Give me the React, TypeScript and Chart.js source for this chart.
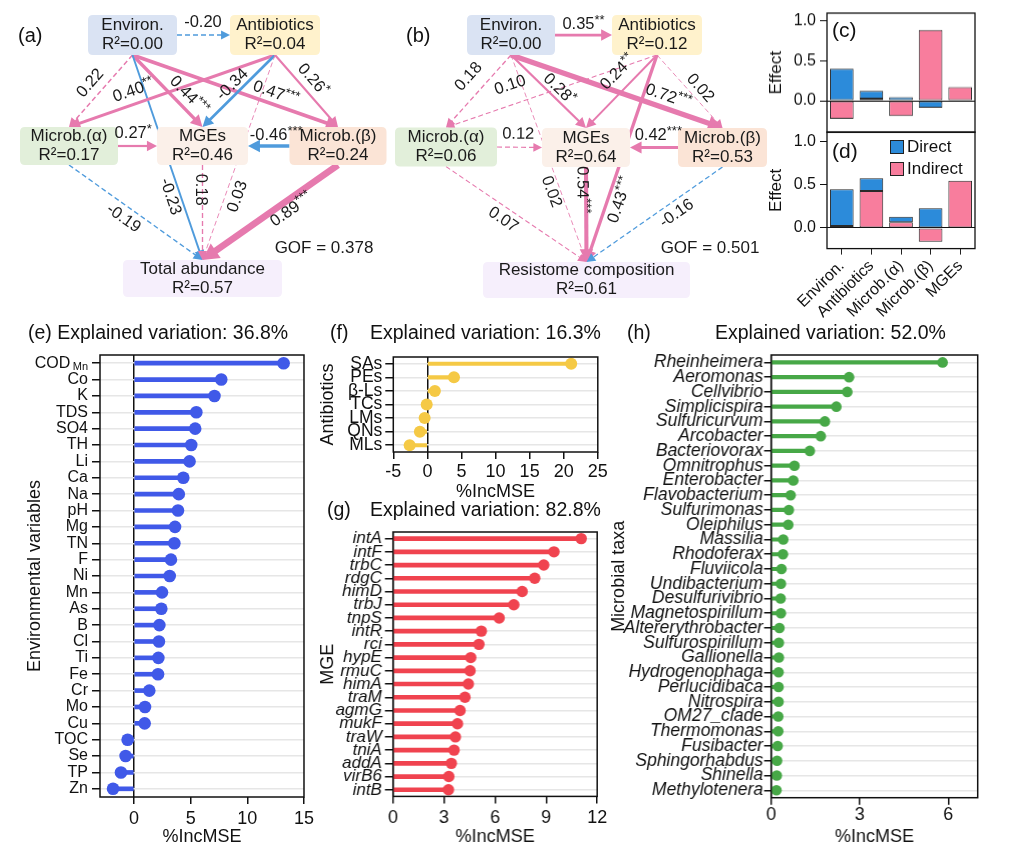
import React, { useEffect, useRef } from 'react';
import { Chart, registerables } from 'chart.js';

Chart.register(...registerables);

const FONT = "'Liberation Sans', Arial, Helvetica, sans-serif";
Chart.defaults.font.family = FONT;
Chart.defaults.color = '#111';

// ---------------- DATA ----------------
// (a) path model, total abundance
const A_NODES = ['Environ.', 'Antibiotics', 'Microb.(α)', 'MGEs', 'Microb.(β)', 'Total abundance'];
const A_R2 = [0.0, 0.04, 0.17, 0.46, 0.24, 0.57];
const A_FROM = [0, 0, 0, 0, 0, 1, 1, 1, 1, 2, 4, 2, 3, 4];
const A_TO = [1, 2, 3, 4, 5, 2, 3, 4, 5, 3, 3, 5, 5, 5];
const A_COEF = [-0.2, 0.22, 0.44, 0.47, -0.23, 0.4, -0.34, 0.26, 0.03, 0.27, -0.46, -0.19, 0.18, 0.89];
const A_SIG = ['', '', '***', '***', '', '**', '', '*', '', '*', '***', '', '', '***'];
const A_DASHED = [1, 1, 0, 0, 0, 0, 0, 0, 1, 0, 0, 1, 1, 0];
const A_GOF = 0.378;

// (b) path model, resistome composition
const B_NODES = ['Environ.', 'Antibiotics', 'Microb.(α)', 'MGEs', 'Microb.(β)', 'Resistome composition'];
const B_R2 = [0.0, 0.12, 0.06, 0.64, 0.53, 0.61];
const B_FROM = [0, 0, 0, 0, 0, 1, 1, 1, 1, 2, 4, 2, 3, 4];
const B_TO = [1, 2, 3, 4, 5, 2, 3, 4, 5, 3, 3, 5, 5, 5];
const B_COEF = [0.35, 0.18, 0.28, 0.72, 0.02, 0.1, 0.24, 0.02, 0.43, 0.12, 0.42, 0.07, 0.54, -0.16];
const B_SIG = ['**', '', '*', '***', '', '', '**', '', '***', '', '***', '', '***', ''];
const B_DASHED = [0, 1, 0, 0, 1, 1, 0, 1, 0, 1, 0, 1, 0, 1];
const B_GOF = 0.501;

// (c)/(d) effects
const EFFECT_CATS = ['Environ.', 'Antibiotics', 'Microb.(α)', 'Microb.(β)', 'MGEs'];
const C_DIRECT = [0.4, 0.097, 0.046, -0.088, null];
const C_INDIRECT = [-0.227, 0.025, -0.19, 0.887, 0.17];
const D_DIRECT = [0.423, 0.146, 0.065, 0.227, null];
const D_INDIRECT = [0.023, 0.427, 0.065, -0.158, 0.546];
const EFFECT_TICKS = [0, 0.5, 1.0];

// (e) environmental variables
const E_VARS = ['CODMn', 'Co', 'K', 'TDS', 'SO4', 'TH', 'Li', 'Ca', 'Na', 'pH', 'Mg', 'TN', 'F', 'Ni', 'Mn', 'As', 'B', 'Cl', 'Ti', 'Fe', 'Cr', 'Mo', 'Cu', 'TOC', 'Se', 'TP', 'Zn'];
const E_VALS = [13.2, 7.7, 7.1, 5.5, 5.4, 5.05, 4.9, 4.35, 3.95, 3.88, 3.62, 3.56, 3.26, 3.15, 2.47, 2.41, 2.24, 2.2, 2.15, 2.12, 1.35, 0.97, 0.94, -0.56, -0.74, -1.15, -1.85];
const E_TICKS = [0, 5, 10, 15];
const E_EXPLAINED = '36.8%';

// (f) antibiotics
const F_CLASSES = ['SAs', 'PEs', 'β-Ls', 'TCs', 'LMs', 'QNs', 'MLs'];
const F_VALS = [21.1, 3.9, 1.1, -0.1, -0.4, -1.1, -2.6];
const F_TICKS = [-5, 0, 5, 10, 15, 20, 25];
const F_EXPLAINED = '16.3%';

// (g) MGEs
const G_GENES = ['intA', 'intF', 'trbC', 'rdgC', 'himD', 'trbJ', 'tnpS', 'intR', 'rci', 'hypE', 'rmuC', 'himA', 'traM', 'agmG', 'mukF', 'traW', 'tniA', 'addA', 'virB6', 'intB'];
const G_VALS = [11.06, 9.46, 8.86, 8.33, 7.59, 7.1, 6.24, 5.19, 5.05, 4.57, 4.53, 4.43, 4.23, 3.94, 3.79, 3.67, 3.59, 3.43, 3.28, 3.26];
const G_TICKS = [0, 3, 6, 9, 12];
const G_EXPLAINED = '82.8%';

// (h) microbial taxa
const H_TAXA = ['Rheinheimera', 'Aeromonas', 'Cellvibrio', 'Simplicispira', 'Sulfuricurvum', 'Arcobacter', 'Bacteriovorax', 'Omnitrophus', 'Enterobacter', 'Flavobacterium', 'Sulfurimonas', 'Oleiphilus', 'Massilia', 'Rhodoferax', 'Fluviicola', 'Undibacterium', 'Desulfurivibrio', 'Magnetospirillum', 'Altererythrobacter', 'Sulfurospirillum', 'Gallionella', 'Hydrogenophaga', 'Perlucidibaca', 'Nitrospira', 'OM27_clade', 'Thermomonas', 'Fusibacter', 'Sphingorhabdus', 'Shinella', 'Methylotenera'];
const H_VALS = [5.81, 2.64, 2.58, 2.21, 1.82, 1.68, 1.31, 0.79, 0.75, 0.66, 0.6, 0.58, 0.41, 0.4, 0.35, 0.33, 0.32, 0.33, 0.28, 0.26, 0.26, 0.25, 0.25, 0.25, 0.24, 0.24, 0.22, 0.2, 0.19, 0.18];
const H_TICKS = [0, 3, 6];
const H_EXPLAINED = '52.0%';

const SUBS: Record<string, [string, string]> = { CODMn: ['COD', 'Mn'] };

// ---------------- STYLE / LAYOUT ----------------
const EDGE_PINK = '#E67AAE';
const EDGE_BLUE = '#4F9BDC';
const BAR_BLUE = '#2C8BDA';
const BAR_PINK = '#F87D9D';
const NODE_FILLS = ['#DAE3F3', '#FFF2CC', '#E2EFDA', '#FBF0E9', '#FBE4D6', '#F6EFFC'];

const A_LAYOUT = {
  W: 392, H: 300,
  cx: [132.5, 275, 69, 202.5, 338, 202.5],
  cy: [35, 35, 146, 146, 146, 278.5],
  w: [89, 90, 98, 91, 97, 159],
  h: [40, 40, 38, 38, 38, 37],
  labelT: [0.49, 0.51, 0.68, 0.68, 0.675, 0.666, 0.5, 0.456, 0.671, 0.39, 0.32, 0.46, 0.26, 0.385],
  labelOff: [13, 13, 12, 11, -10, 13, 9, 12, -12, 13, 11, -12, -2, -10],
  gof: [324, 248],
};
const B_LAYOUT = {
  W: 400, H: 300,
  cx: [131, 277, 66, 206, 342.5, 206.5],
  cy: [35, 35, 147, 147.5, 147.5, 280],
  w: [88, 90, 102, 88, 89, 207],
  h: [40, 40, 39, 39, 39, 36],
  labelT: [0.5, 0.456, 0.557, 0.725, 0.646, 0.666, 0.39, 0.546, 0.682, 0.47, 0.41, 0.455, 0.24, 0.386],
  labelOff: [11, 17, 9, 12, -9, 19, 16, 10, -12, 13, 12, -12, -4, -12],
  gof: [330, 248],
};

// ---------------- PLUGINS ----------------
const framePlugin = (lw: number) => ({
  id: 'frame',
  afterDraw(chart: any) {
    const { left, top, right, bottom } = chart.chartArea;
    const ctx = chart.ctx;
    ctx.save();
    ctx.strokeStyle = '#111';
    ctx.lineWidth = lw;
    ctx.strokeRect(left, top, right - left, bottom - top);
    ctx.restore();
  },
});

const subPlugin = (labels: string[], tickLen: number, tickPad: number) => ({
  id: 'subs',
  afterDraw(chart: any) {
    const ys = chart.scales.y;
    const ctx = chart.ctx;
    labels.forEach((lab, i) => {
      const s = SUBS[lab];
      if (!s) return;
      const y = ys.getPixelForTick(i);
      ctx.save();
      ctx.font = `11px ${FONT}`;
      ctx.fillStyle = '#111';
      ctx.textAlign = 'right';
      ctx.textBaseline = 'middle';
      ctx.fillText(s[1], ys.right - tickLen - tickPad, y + 4);
      ctx.restore();
    });
  },
});

function drawDiagram(chart: any, d: any, L: any) {
  const ctx = chart.ctx;
  const xs = chart.scales.x;
  const ys = chart.scales.y;
  const px = (v: number) => xs.getPixelForValue(v);
  const py = (v: number) => ys.getPixelForValue(v);
  ctx.save();
  const ends = d.from.map((s: number, i: number) => {
    const t = d.to[i];
    let sx, sy, ex, ey;
    if (Math.abs(L.cy[s] - L.cy[t]) < 5) {
      const dir = L.cx[t] > L.cx[s] ? 1 : -1;
      sx = L.cx[s] + (dir * L.w[s]) / 2;
      sy = L.cy[s];
      ex = L.cx[t] - (dir * L.w[t]) / 2;
      ey = L.cy[t];
    } else {
      sx = L.cx[s];
      sy = L.cy[s] + L.h[s] / 2;
      ex = L.cx[t];
      ey = L.cy[t] - L.h[t] / 2;
    }
    return [px(sx), py(sy), px(ex), py(ey)];
  });
  // edges
  d.coef.forEach((c: number, i: number) => {
    const [sx, sy, ex, ey] = ends[i];
    const col = c >= 0 ? EDGE_PINK : EDGE_BLUE;
    const dashed = d.dashed[i] === 1;
    const lw = dashed ? 0.8 + 3 * Math.abs(c) : 0.3 + 7 * Math.abs(c);
    const len = Math.hypot(ex - sx, ey - sy);
    const ux = (ex - sx) / len;
    const uy = (ey - sy) / len;
    const ah = 7 + 1.4 * lw;
    const aw = 3.5 + 0.8 * lw;
    ctx.strokeStyle = col;
    ctx.lineWidth = lw;
    ctx.setLineDash(dashed ? [5, 3] : []);
    ctx.beginPath();
    ctx.moveTo(sx, sy);
    ctx.lineTo(ex - ux * ah * 0.7, ey - uy * ah * 0.7);
    ctx.stroke();
    ctx.setLineDash([]);
    ctx.fillStyle = col;
    ctx.beginPath();
    ctx.moveTo(ex, ey);
    ctx.lineTo(ex - ux * ah - uy * aw, ey - uy * ah + ux * aw);
    ctx.lineTo(ex - ux * ah + uy * aw, ey - uy * ah - ux * aw);
    ctx.closePath();
    ctx.fill();
  });
  // boxes
  d.names.forEach((name: string, i: number) => {
    const x0 = px(L.cx[i] - L.w[i] / 2);
    const x1 = px(L.cx[i] + L.w[i] / 2);
    const y0 = py(L.cy[i] - L.h[i] / 2);
    const y1 = py(L.cy[i] + L.h[i] / 2);
    const r = 5;
    ctx.fillStyle = NODE_FILLS[i];
    ctx.beginPath();
    ctx.moveTo(x0 + r, y0);
    ctx.lineTo(x1 - r, y0);
    ctx.quadraticCurveTo(x1, y0, x1, y0 + r);
    ctx.lineTo(x1, y1 - r);
    ctx.quadraticCurveTo(x1, y1, x1 - r, y1);
    ctx.lineTo(x0 + r, y1);
    ctx.quadraticCurveTo(x0, y1, x0, y1 - r);
    ctx.lineTo(x0, y0 + r);
    ctx.quadraticCurveTo(x0, y0, x0 + r, y0);
    ctx.closePath();
    ctx.fill();
    ctx.fillStyle = '#1a1a1a';
    ctx.font = `17px ${FONT}`;
    ctx.textAlign = 'center';
    ctx.textBaseline = 'middle';
    const cx = px(L.cx[i]);
    const cy = py(L.cy[i]);
    ctx.fillText(name, cx, cy - 9.5);
    ctx.fillText(`R²=${d.r2[i].toFixed(2)}`, cx, cy + 9.5);
  });
  // labels
  d.coef.forEach((c: number, i: number) => {
    const [sx, sy, ex, ey] = ends[i];
    let th = Math.atan2(ey - sy, ex - sx);
    if (th > Math.PI / 2 + 1e-6) th -= Math.PI;
    else if (th <= -Math.PI / 2) th += Math.PI;
    const t = L.labelT[i];
    const off = L.labelOff[i];
    const lx = sx + t * (ex - sx) + off * Math.sin(th);
    const ly = sy + t * (ey - sy) - off * Math.cos(th);
    const main = c.toFixed(2);
    const stars = d.sig[i];
    ctx.save();
    ctx.translate(lx, ly);
    ctx.rotate(th);
    ctx.fillStyle = '#1a1a1a';
    ctx.textBaseline = 'middle';
    ctx.textAlign = 'left';
    ctx.font = `16.5px ${FONT}`;
    const w1 = ctx.measureText(main).width;
    ctx.font = `13px ${FONT}`;
    const w2 = stars ? ctx.measureText(stars).width : 0;
    const x0 = -(w1 + w2) / 2;
    ctx.font = `16.5px ${FONT}`;
    ctx.fillText(main, x0, 0);
    if (stars) {
      ctx.font = `13px ${FONT}`;
      ctx.fillText(stars, x0 + w1, -4);
    }
    ctx.restore();
  });
  // GOF
  ctx.fillStyle = '#1a1a1a';
  ctx.font = `17px ${FONT}`;
  ctx.textAlign = 'center';
  ctx.textBaseline = 'middle';
  ctx.fillText(`GOF = ${d.gof.toFixed(3)}`, px(L.gof[0]), py(L.gof[1]));
  ctx.restore();
}

// ---------------- CONFIG BUILDERS ----------------
function diagramConfig(d: any, L: any) {
  return {
    type: 'scatter',
    data: {
      datasets: [{ data: L.cx.map((x: number, i: number) => ({ x, y: L.cy[i] })), pointRadius: 0 }],
    },
    options: {
      responsive: true,
      maintainAspectRatio: false,
      animation: false,
      events: [],
      layout: { padding: 0 },
      plugins: { legend: { display: false }, tooltip: { enabled: false } },
      scales: {
        x: { type: 'linear', display: false, min: 0, max: L.W },
        y: { type: 'linear', display: false, min: 0, max: L.H, reverse: true },
      },
    },
    plugins: [{ id: 'diagram', afterDatasetsDraw: (chart: any) => drawDiagram(chart, d, L) }],
  };
}

const PAD_TOP = 16;

function lollipopConfig(o: any) {
  const plugins: any[] = [framePlugin(1.5)];
  if (o.labels.some((l: string) => SUBS[l])) plugins.push(subPlugin(o.labels, o.yTickLen, o.yTickPad));
  return {
    type: 'bar',
    data: {
      labels: o.labels,
      datasets: [
        {
          type: 'line', indexAxis: 'y', data: o.values, showLine: false,
          pointRadius: o.dotR, pointHoverRadius: o.dotR, pointBackgroundColor: o.color,
          pointBorderWidth: 0, borderColor: o.color, order: 0,
        },
        {
          type: 'bar', indexAxis: 'y', data: o.values, backgroundColor: o.color,
          barThickness: o.stem, borderWidth: 0, order: 1,
        },
      ],
    },
    options: {
      indexAxis: 'y',
      responsive: true,
      maintainAspectRatio: false,
      animation: false,
      events: [],
      layout: { padding: { top: PAD_TOP, right: o.padRight, left: 0, bottom: 0 } },
      plugins: { legend: { display: false }, tooltip: { enabled: false } },
      scales: {
        x: {
          type: 'linear', min: o.xMin, max: o.xMax,
          afterBuildTicks: (s: any) => { s.ticks = o.xTicks.map((v: number) => ({ value: v })); },
          afterFit: (s: any) => { s.height = o.axisH; },
          ticks: { font: { size: 18 }, padding: o.xTickPad, color: '#111', callback: (v: any) => String(v) },
          grid: {
            color: (ctx: any) => (ctx.tick && ctx.tick.value === 0 ? '#111' : 'rgba(0,0,0,0)'),
            lineWidth: 1.5, tickColor: '#111', tickLength: 7,
          },
          border: { display: false },
          title: { display: true, text: '%IncMSE', font: { size: 18 }, color: '#111', padding: { top: 0, bottom: 0 } },
        },
        y: {
          type: 'category', offset: true,
          afterFit: (s: any) => { s.width = o.axisW; },
          ticks: {
            autoSkip: false,
            font: { size: o.yFont, style: o.italic ? 'italic' : 'normal' },
            padding: o.yTickPad, color: '#111',
            callback: (_v: any, i: number) => {
              const lab = o.labels[i];
              return SUBS[lab] ? SUBS[lab][0] + '\u2007\u2007' : lab;
            },
          },
          grid: { offset: false, color: '#E6E6E6', lineWidth: 1.5, tickColor: '#111', tickLength: o.yTickLen },
          border: { display: false },
          title: { display: true, text: o.yTitle, font: { size: 18 }, color: '#111', padding: { top: o.titlePad, bottom: 0 } },
        },
      },
    },
    plugins,
  };
}

function effectConfig(direct: any[], indirect: any[], yMin: number, yMax: number, showX: boolean, padBottom: number, axisH: number) {
  return {
    type: 'bar',
    data: {
      labels: EFFECT_CATS,
      datasets: [
        { label: 'Indirect', data: indirect, backgroundColor: BAR_PINK, borderColor: '#2a2a2a', borderWidth: 1, borderSkipped: false, barPercentage: 0.8, categoryPercentage: 1 },
        { label: 'Direct', data: direct, backgroundColor: BAR_BLUE, borderColor: '#2a2a2a', borderWidth: 1, borderSkipped: false, barPercentage: 0.8, categoryPercentage: 1 },
      ],
    },
    options: {
      responsive: true,
      maintainAspectRatio: false,
      animation: false,
      events: [],
      layout: { padding: { top: PAD_TOP, right: 10, left: 0, bottom: padBottom } },
      plugins: { legend: { display: false }, tooltip: { enabled: false } },
      scales: {
        x: {
          stacked: true, display: showX, offset: true,
          afterFit: (s: any) => { s.height = axisH; },
          grid: { offset: false, color: 'rgba(0,0,0,0)', tickColor: '#222', tickLength: 6 },
          border: { display: false },
          ticks: { font: { size: 16 }, minRotation: 45, maxRotation: 45, padding: 2, color: '#111', autoSkip: false },
        },
        y: {
          stacked: true, min: yMin, max: yMax,
          afterBuildTicks: (s: any) => { s.ticks = EFFECT_TICKS.map((v) => ({ value: v })); },
          afterFit: (s: any) => { s.width = 62; },
          ticks: { font: { size: 16 }, padding: 4, color: '#111', callback: (v: any) => Number(v).toFixed(1) },
          grid: {
            color: (ctx: any) => (ctx.tick && ctx.tick.value === 0 ? '#111' : 'rgba(0,0,0,0)'),
            lineWidth: 1, tickColor: '#111', tickLength: 7,
          },
          border: { display: false },
          title: { display: true, text: 'Effect', font: { size: 17 }, color: '#111', padding: { top: 1, bottom: 0 } },
        },
      },
    },
    plugins: [framePlugin(1.3)],
  };
}

// ---------------- COMPONENTS ----------------
function ChartBox({ left, top, width, height, make }: any) {
  const ref = useRef<HTMLCanvasElement>(null);
  useEffect(() => {
    const chart = new Chart(ref.current as HTMLCanvasElement, make());
    return () => chart.destroy();
  }, []);
  return (
    <div style={{ position: 'absolute', left, top, width, height }}>
      <canvas ref={ref} />
    </div>
  );
}

function Txt({ x, y, s, children, italic }: any) {
  return (
    <div
      style={{
        position: 'absolute', left: x, top: y - s * 0.6, fontSize: s, lineHeight: `${s * 1.2}px`,
        fontFamily: FONT, color: '#111', whiteSpace: 'pre', fontStyle: italic ? 'italic' : 'normal',
      }}
    >
      {children}
    </div>
  );
}

export default function App() {
  const dA = { names: A_NODES, r2: A_R2, from: A_FROM, to: A_TO, coef: A_COEF, sig: A_SIG, dashed: A_DASHED, gof: A_GOF };
  const dB = { names: B_NODES, r2: B_R2, from: B_FROM, to: B_TO, coef: B_COEF, sig: B_SIG, dashed: B_DASHED, gof: B_GOF };
  return (
    <div style={{ position: 'fixed', left: 0, top: 0, width: 1025, height: 859, background: '#fff', overflow: 'hidden', fontFamily: FONT }}>
      <ChartBox left={0} top={0} width={A_LAYOUT.W} height={A_LAYOUT.H} make={() => diagramConfig(dA, A_LAYOUT)} />
      <ChartBox left={380} top={0} width={B_LAYOUT.W} height={B_LAYOUT.H} make={() => diagramConfig(dB, B_LAYOUT)} />
      <Txt x={18} y={35} s={20}>(a)</Txt>
      <Txt x={406} y={35} s={20}>(b)</Txt>

      {/* (c): plot area 13.3 .. 131.7 */}
      <ChartBox left={765} top={13.3 - PAD_TOP} width={220} height={131.7 - 13.3 + PAD_TOP + 16} make={() => effectConfig(C_DIRECT, C_INDIRECT, -0.395, 1.097, false, 16, 0)} />
      {/* (d): plot area 131.7 .. 248.3 */}
      <ChartBox left={765} top={131.7 - PAD_TOP} width={220} height={248.3 - 131.7 + PAD_TOP + 72} make={() => effectConfig(D_DIRECT, D_INDIRECT, -0.238, 1.108, true, 0, 72)} />
      <Txt x={832} y={30} s={21}>(c)</Txt>
      <Txt x={832} y={151} s={21}>(d)</Txt>
      <div style={{ position: 'absolute', left: 890, top: 140, width: 12, height: 12, background: BAR_BLUE, border: '1px solid #222' }} />
      <div style={{ position: 'absolute', left: 890, top: 162, width: 12, height: 12, background: BAR_PINK, border: '1px solid #222' }} />
      <Txt x={907} y={147} s={17}>Direct</Txt>
      <Txt x={907} y={169} s={17}>Indirect</Txt>

      <ChartBox
        left={22} top={355 - PAD_TOP} width={296} height={848 - 355 + PAD_TOP}
        make={() => lollipopConfig({
          labels: E_VARS, values: E_VALS, color: '#4059E8', xMin: -3, xMax: 15, xTicks: E_TICKS,
          italic: false, yTitle: 'Environmental variables', axisW: 78, axisH: 51, padRight: 12,
          yFont: 16, dotR: 6.3, stem: 4, yTickLen: 8, yTickPad: 4, xTickPad: 4, titlePad: 2,
        })}
      />
      <Txt x={28} y={333} s={19.5}>{`(e) Explained variation: ${E_EXPLAINED}`}</Txt>

      <ChartBox
        left={315} top={356.7 - PAD_TOP} width={295.3} height={503 - 356.7 + PAD_TOP}
        make={() => lollipopConfig({
          labels: F_CLASSES, values: F_VALS, color: '#F5C945', xMin: -5, xMax: 25, xTicks: F_TICKS,
          italic: false, yTitle: 'Antibiotics', axisW: 78.3, axisH: 51.3, padRight: 12,
          yFont: 17.5, dotR: 6, stem: 3.5, yTickLen: 8, yTickPad: 3, xTickPad: 2.5, titlePad: 2,
        })}
      />
      <Txt x={330} y={333} s={19.5}>(f)</Txt>
      <Txt x={370} y={333} s={19.5}>{`Explained variation: ${F_EXPLAINED}`}</Txt>

      <ChartBox
        left={315} top={532.3 - PAD_TOP} width={294.7} height={848.5 - 532.3 + PAD_TOP}
        make={() => lollipopConfig({
          labels: G_GENES, values: G_VALS, color: '#F0434F', xMin: 0, xMax: 12, xTicks: G_TICKS,
          italic: true, yTitle: 'MGE', axisW: 77.7, axisH: 51.8, padRight: 12,
          yFont: 17, dotR: 5.7, stem: 4, yTickLen: 8, yTickPad: 3, xTickPad: 3.5, titlePad: 2,
        })}
      />
      <Txt x={327} y={510} s={19.5}>(g)</Txt>
      <Txt x={370} y={510} s={19.5}>{`Explained variation: ${G_EXPLAINED}`}</Txt>

      <ChartBox
        left={605} top={355 - PAD_TOP} width={383.7} height={848 - 355 + PAD_TOP}
        make={() => lollipopConfig({
          labels: H_TAXA, values: H_VALS, color: '#47A847', xMin: 0, xMax: 7, xTicks: H_TICKS,
          italic: true, yTitle: 'Microbial taxa', axisW: 165.7, axisH: 50.3, padRight: 12,
          yFont: 17.5, dotR: 5.3, stem: 3.5, yTickLen: 7, yTickPad: 1, xTickPad: 0, titlePad: 3,
        })}
      />
      <Txt x={627} y={333} s={19.5}>(h)</Txt>
      <Txt x={715} y={333} s={19.5}>{`Explained variation: ${H_EXPLAINED}`}</Txt>
    </div>
  );
}
